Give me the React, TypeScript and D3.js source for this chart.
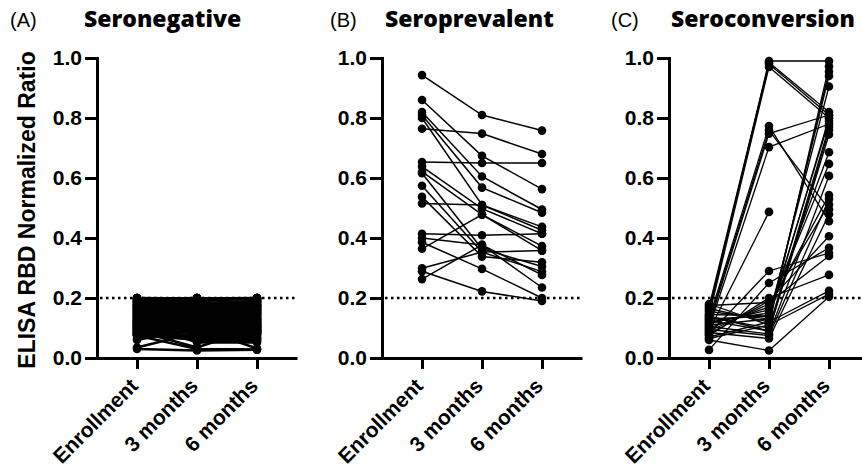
import React, { useRef, useEffect } from 'react';
import * as d3 from 'd3';

const timepoints = ['Enrollment', '3 months', '6 months'];
const yTicks = [0, 0.2, 0.4, 0.6, 0.8, 1.0];
const cutoff = 0.2;

// (A) Seronegative - dense block under the cutoff
const negEnrollment = [
  0.03, 0.035, 0.075, 0.09, 0.11, 0.12, 0.06, 0.065, 0.08, 0.1,
  0.2, 0.196, 0.19, 0.186, 0.18, 0.176, 0.17, 0.165, 0.16, 0.155,
  0.15, 0.145, 0.14, 0.135, 0.13, 0.125, 0.12, 0.115, 0.11, 0.105,
  0.1, 0.095, 0.09, 0.085, 0.08, 0.078, 0.076, 0.08,
  0.08, 0.19, 0.12, 0.15, 0.09, 0.2, 0.11, 0.17, 0.13, 0.1,
  0.18, 0.14, 0.085, 0.16, 0.195, 0.105, 0.125, 0.175, 0.095, 0.145,
  0.135, 0.165, 0.115, 0.185, 0.09, 0.155, 0.2, 0.12, 0.1, 0.17,
  0.14, 0.08, 0.19, 0.13, 0.16, 0.11, 0.15, 0.18, 0.095, 0.125,
  0.175, 0.085, 0.145, 0.105, 0.195, 0.135, 0.165, 0.115, 0.155, 0.185,
  0.1, 0.13, 0.17, 0.09, 0.2, 0.12, 0.16, 0.14, 0.11, 0.18,
  0.15, 0.19, 0.08, 0.125, 0.175, 0.105,
];
const neg3Months = [
  0.025, 0.085, 0.03, 0.035, 0.1, 0.052, 0.1, 0.12, 0.06, 0.07,
  0.198, 0.2, 0.192, 0.184, 0.182, 0.172, 0.168, 0.166, 0.158, 0.156,
  0.148, 0.146, 0.138, 0.136, 0.128, 0.126, 0.118, 0.116, 0.108, 0.106,
  0.098, 0.096, 0.088, 0.086, 0.078, 0.072, 0.066, 0.06,
  0.18, 0.09, 0.2, 0.1, 0.16, 0.12, 0.19, 0.08, 0.15, 0.17,
  0.11, 0.195, 0.14, 0.085, 0.13, 0.185, 0.095, 0.12, 0.175, 0.105,
  0.2, 0.09, 0.165, 0.11, 0.155, 0.08, 0.135, 0.19, 0.145, 0.1,
  0.17, 0.125, 0.115, 0.18, 0.095, 0.2, 0.085, 0.14, 0.16, 0.13,
  0.105, 0.19, 0.12, 0.175, 0.09, 0.15, 0.11, 0.195, 0.08, 0.135,
  0.165, 0.185, 0.1, 0.145, 0.115, 0.17, 0.125, 0.09, 0.2, 0.155,
  0.13, 0.105, 0.18, 0.16, 0.085, 0.14,
];
const neg6Months = [
  0.028, 0.09, 0.028, 0.1, 0.032, 0.052, 0.07, 0.06, 0.065, 0.055,
  0.2, 0.194, 0.197, 0.188, 0.178, 0.175, 0.172, 0.162, 0.163, 0.152,
  0.15, 0.144, 0.142, 0.132, 0.13, 0.124, 0.122, 0.112, 0.11, 0.104,
  0.1, 0.093, 0.09, 0.083, 0.08, 0.074, 0.068, 0.062,
  0.1, 0.17, 0.13, 0.2, 0.085, 0.15, 0.11, 0.19, 0.095, 0.16,
  0.18, 0.12, 0.195, 0.09, 0.14, 0.105, 0.175, 0.08, 0.155, 0.125,
  0.115, 0.185, 0.1, 0.165, 0.135, 0.2, 0.09, 0.145, 0.17, 0.11,
  0.19, 0.08, 0.16, 0.12, 0.2, 0.095, 0.175, 0.13, 0.105, 0.185,
  0.15, 0.085, 0.14, 0.115, 0.195, 0.1, 0.165, 0.125, 0.18, 0.09,
  0.135, 0.11, 0.19, 0.155, 0.17, 0.08, 0.145, 0.2, 0.12, 0.095,
  0.175, 0.16, 0.105, 0.13, 0.185, 0.115,
];

// (B) Seroprevalent
const prevEnrollment = [0.943, 0.86, 0.82, 0.81, 0.8, 0.764, 0.653, 0.638, 0.621, 0.616, 0.574, 0.537, 0.515, 0.414, 0.4, 0.386, 0.364, 0.299, 0.289, 0.263];
const prev3Months = [0.81, 0.674, 0.605, 0.568, 0.51, 0.748, 0.65, 0.498, 0.478, 0.364, 0.353, 0.338, 0.51, 0.409, 0.377, 0.297, 0.478, 0.353, 0.222, 0.377];
const prev6Months = [0.758, 0.563, 0.495, 0.484, 0.437, 0.68, 0.65, 0.414, 0.373, 0.305, 0.288, 0.319, 0.426, 0.414, 0.277, 0.2, 0.358, 0.358, 0.19, 0.235];

// (C) Seroconversion
const convEnrollment = [0.15, 0.16, 0.14, 0.17, 0.13, 0.12, 0.11, 0.1, 0.09, 0.08, 0.027, 0.18, 0.165, 0.155, 0.145, 0.135, 0.125, 0.12, 0.115, 0.105, 0.1, 0.095, 0.09, 0.085, 0.08, 0.075, 0.07, 0.065, 0.06, 0.175, 0.11, 0.13, 0.14];
const conv3Months = [0.99, 0.98, 0.97, 0.985, 0.773, 0.759, 0.748, 0.703, 0.487, 0.29, 0.25, 0.11, 0.12, 0.13, 0.14, 0.1, 0.09, 0.15, 0.16, 0.08, 0.17, 0.075, 0.18, 0.065, 0.19, 0.2, 0.12, 0.11, 0.025, 0.185, 0.13, 0.14, 0.09];
const conv6Months = [0.99, 0.81, 0.8, 0.82, 0.456, 0.496, 0.81, 0.78, null, 0.35, 0.367, 0.972, 0.955, 0.94, 0.905, 0.77, 0.745, 0.686, 0.647, 0.607, 0.543, 0.53, 0.512, 0.479, 0.406, 0.277, 0.224, 0.213, 0.204, 0.34, 0.8, 0.79, 0.76];

const panels = [
  { letter: '(A)', title: 'Seronegative', series: [negEnrollment, neg3Months, neg6Months] },
  { letter: '(B)', title: 'Seroprevalent', series: [prevEnrollment, prev3Months, prev6Months] },
  { letter: '(C)', title: 'Seroconversion', series: [convEnrollment, conv3Months, conv6Months] },
];

const WIDTH = 862;
const HEIGHT = 472;
const Y_TOP = 58;
const Y_BOTTOM = 358;
const PANEL_W = 200;
const layout = [
  { x0: 97, letterX: 10, titleX: 84, lineW: 2.6 },
  { x0: 382, letterX: 330, titleX: 385, lineW: 1.5 },
  { x0: 669, letterX: 611, titleX: 671, lineW: 1.3 },
];

const ARIAL = '"Liberation Sans", Arial, sans-serif';
const TITLE_FONT = '"Open Sans", "Noto Sans", sans-serif';

type Pt = { t: string; v: number | null };

export default function App() {
  const svgRef = useRef<SVGSVGElement>(null);

  useEffect(() => {
    if (!svgRef.current) return;
    const svg = d3.select(svgRef.current);
    svg.selectAll('*').remove();

    const y = d3.scaleLinear().domain([0, 1]).range([Y_BOTTOM, Y_TOP]);

    panels.forEach((p, i) => {
      const { x0, letterX, titleX, lineW } = layout[i];
      const x = d3.scalePoint<string>()
        .domain(timepoints)
        .range([x0, x0 + PANEL_W])
        .padding(0.667);

      const g = svg.append('g');

      // cutoff
      g.append('line')
        .attr('x1', x0 + 3)
        .attr('x2', x0 + PANEL_W)
        .attr('y1', y(cutoff))
        .attr('y2', y(cutoff))
        .attr('stroke', '#000')
        .attr('stroke-width', 2.5)
        .attr('stroke-dasharray', '2.5,3.5');

      const [e, m3, m6] = p.series;
      const subjects: Pt[][] = e.map((v, k) => [
        { t: timepoints[0], v },
        { t: timepoints[1], v: m3[k] },
        { t: timepoints[2], v: m6[k] },
      ]);

      const line = d3.line<Pt>()
        .defined(d => d.v != null)
        .x(d => x(d.t) as number)
        .y(d => y(d.v as number));

      g.selectAll('path.subject')
        .data(subjects)
        .join('path')
        .attr('class', 'subject')
        .attr('d', s => line(s))
        .attr('fill', 'none')
        .attr('stroke', '#000')
        .attr('stroke-width', lineW);

      const pts = subjects.flat().filter(d => d.v != null);
      g.selectAll('circle')
        .data(pts)
        .join('circle')
        .attr('cx', d => x(d.t) as number)
        .attr('cy', d => y(d.v as number))
        .attr('r', 4.3)
        .attr('fill', '#000');

      // y axis
      const ya = g.append('g')
        .attr('transform', `translate(${x0},0)`)
        .call(d3.axisLeft(y).tickValues(yTicks).tickFormat(d3.format('.1f')).tickSize(12).tickSizeOuter(0).tickPadding(3));
      ya.attr('font-family', ARIAL).attr('font-size', 21).attr('font-weight', 'bold');
      ya.select('.domain').attr('stroke-width', 3).attr('stroke-linecap', 'square');
      ya.selectAll('.tick line').attr('stroke-width', 3);
      ya.selectAll('.tick text').attr('fill', '#000');

      // x axis
      const xa = g.append('g')
        .attr('transform', `translate(0,${Y_BOTTOM})`)
        .call(d3.axisBottom(x).tickSize(11).tickSizeOuter(0).tickFormat(() => ''));
      xa.select('.domain').attr('stroke-width', 3);
      xa.selectAll('.tick line').attr('stroke-width', 3);

      g.selectAll('text.xlab')
        .data(timepoints)
        .join('text')
        .attr('class', 'xlab')
        .attr('transform', d => `translate(${(x(d) as number) - 3},${Y_BOTTOM + 24}) rotate(-45)`)
        .attr('text-anchor', 'end')
        .attr('dy', '0.35em')
        .attr('font-family', ARIAL)
        .attr('font-size', 21)
        .attr('font-weight', 'bold')
        .text(d => d);

      // headings
      g.append('text')
        .attr('x', letterX)
        .attr('y', 27)
        .attr('font-family', ARIAL)
        .attr('font-size', 20)
        .text(p.letter);
      g.append('text')
        .attr('x', titleX)
        .attr('y', 27)
        .attr('font-family', TITLE_FONT)
        .attr('font-size', 23)
        .attr('font-weight', 800)
        .text(p.title);
    });

    svg.append('text')
      .attr('transform', `translate(35,${(Y_TOP + Y_BOTTOM) / 2 + 2}) rotate(-90)`)
      .attr('text-anchor', 'middle')
      .attr('font-family', ARIAL)
      .attr('font-size', 23)
      .attr('font-weight', 'bold')
      .text('ELISA RBD Normalized Ratio');
  }, []);

  return (
    <svg
      ref={svgRef}
      width={WIDTH}
      height={HEIGHT}
      style={{ position: 'absolute', left: 0, top: 0, background: '#fff' }}
    />
  );
}
